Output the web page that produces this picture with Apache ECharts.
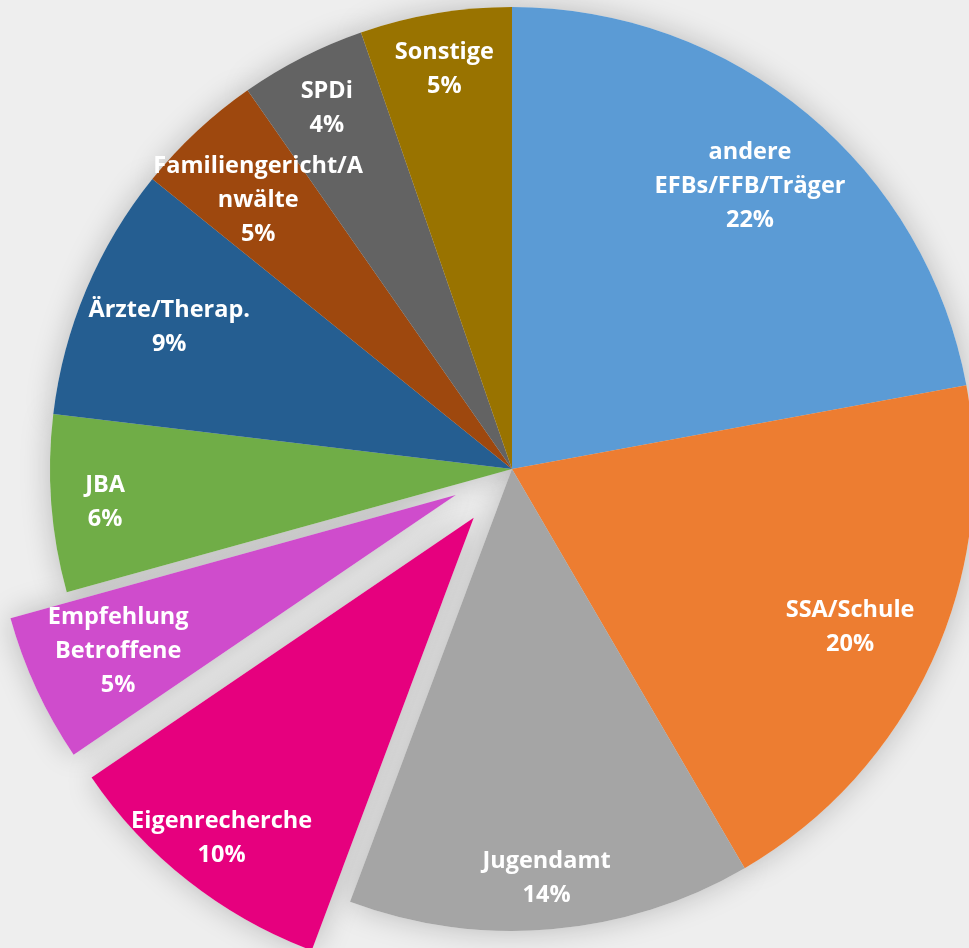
<!DOCTYPE html>
<html>
<head>
<meta charset="utf-8">
<title>Zugangswege</title>
<script src="https://cdn.jsdelivr.net/npm/echarts@6/dist/echarts.min.js"></script>
<style>
	html, body { margin: 0; padding: 0; background: #eeeeee; }
	#echart1 { width: 969px; height: 948px; }
</style>
</head>
<body>
<div id="echart1"></div>
<script>
var categories = ['andere\nEFBs/FFB/Träger', 'SSA/Schule', 'Jugendamt', 'Eigenrecherche', 'Empfehlung\nBetroffene',
	'JBA', 'Ärzte/Therap.', 'Familiengericht/A\nnwälte', 'SPDi', 'Sonstige'];
// Anteile in %, aus dem Bild geschätzt
var values = [22.1, 19.5, 14.1, 9.8, 5.2, 6.2, 8.9, 4.5, 4.4, 5.3];
// herausgezogene Segmente
var pulledOut = ['Eigenrecherche', 'Empfehlung\nBetroffene'];
// Beschriftungen weiter am Rand
var outerLabels = ['Jugendamt', 'Eigenrecherche', 'JBA', 'SPDi', 'Sonstige'];

function echarts_1() {
	var myChart = echarts.init(document.getElementById('echart1'));
	function makeData(outer) {
		return categories.map(function (name, i) {
			var item = { name: name, value: values[i], selected: pulledOut.indexOf(name) > -1 };
			if (outer !== undefined) {
				item.label = { show: (outerLabels.indexOf(name) > -1) === outer };
			}
			return item;
		});
	}
	var base = {
		type: 'pie',
		center: [512, 469],
		startAngle: 90,
		clockwise: true,
		selectedMode: 'multiple',
		selectedOffset: 62,
		animation: false,
		silent: true,
		labelLine: { show: false },
		labelLayout: { hideOverlap: false },
		emphasis: { disabled: true }
	};
	var labelStyle = {
		show: true,
		position: 'inside',
		formatter: function (p) {
			return p.name + '\n' + Math.round(p.percent) + '%';
		},
		offset: [0, 3],
		color: '#ffffff',
		fontFamily: 'Open Sans',
		fontWeight: 'bold',
		fontSize: 23.5,
		lineHeight: 34,
		align: 'center'
	};
	var clear = {
		itemStyle: { color: 'rgba(0,0,0,0)', borderWidth: 0 },
		select: { itemStyle: { color: 'rgba(0,0,0,0)', borderWidth: 0 } },
		label: labelStyle
	};
	var option = {
		backgroundColor: '#eeeeee',
		color: ['#5b9bd5', '#ed7d31', '#a5a5a5', '#e6007e', '#cf4ccc', '#70ad47', '#255e91', '#9e480e', '#636363', '#997300'],
		series: [
			// Schatten darunter
			Object.assign({}, base, {
				radius: [0, 462],
				label: { show: false },
				itemStyle: {
					color: '#eeeeee',
					shadowBlur: 30,
					shadowColor: 'rgba(0,0,0,0.22)'
				},
				data: makeData()
			}),
			Object.assign({}, base, {
				radius: [0, 462],
				label: { show: false },
				itemStyle: { borderWidth: 0 },
				select: { itemStyle: { borderWidth: 0 } },
				data: makeData()
			}),
			// nur Beschriftung
			Object.assign({}, base, clear, { radius: [276, 462], data: makeData(false) }),
			Object.assign({}, base, clear, { radius: [348, 462], data: makeData(true) })
		]
	};
	myChart.setOption(option);
	window.addEventListener("resize", function () {
		myChart.resize();
	});
}
echarts_1();
</script>
</body>
</html>
